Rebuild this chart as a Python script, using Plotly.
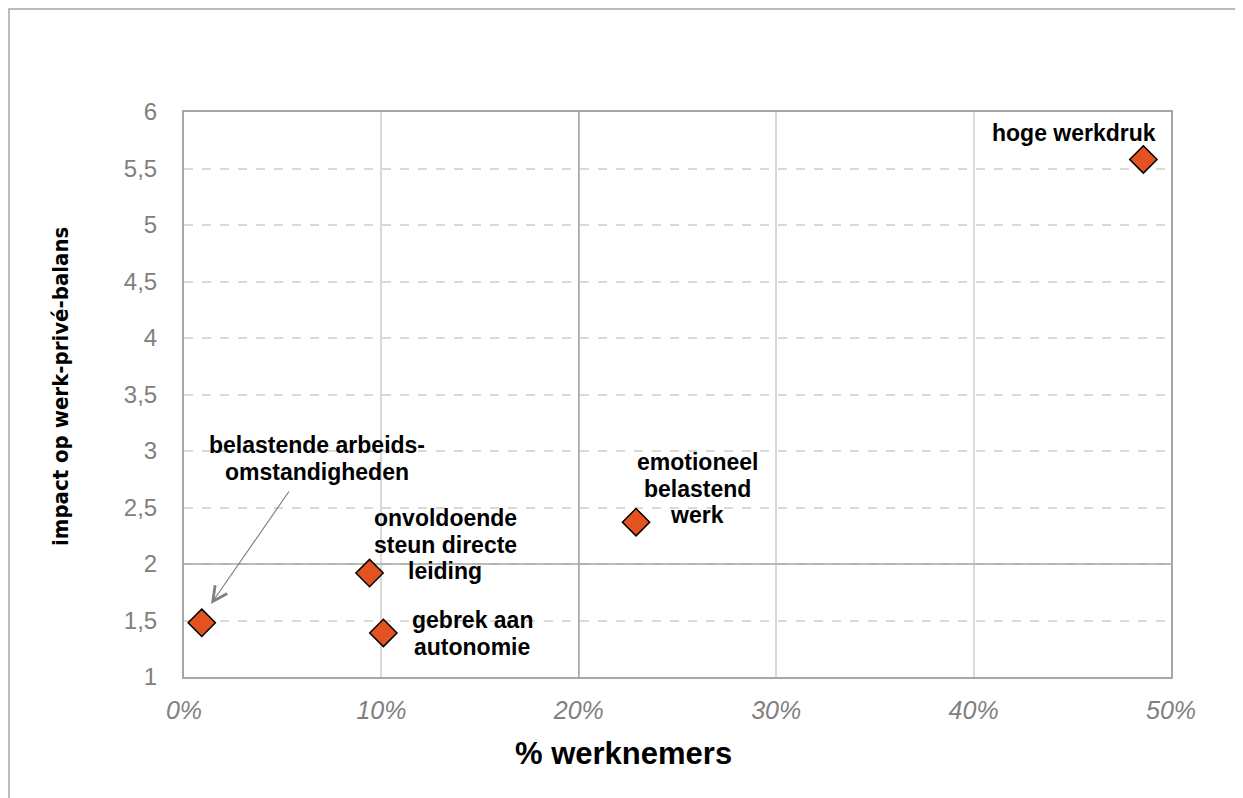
import plotly.graph_objects as go

# ---- data ----
categories = [
    "hoge werkdruk",
    "emotioneel belastend werk",
    "onvoldoende steun directe leiding",
    "gebrek aan autonomie",
    "belastende arbeidsomstandigheden",
]
label_lines = [
    ["hoge werkdruk"],
    ["emotioneel", "belastend", "werk"],
    ["onvoldoende", "steun directe", "leiding"],
    ["gebrek aan", "autonomie"],
    ["belastende arbeids-", "omstandigheden"],
]
pct_workers = [48.6, 22.9, 9.4, 10.1, 0.9]
impact = [5.58, 2.37, 1.92, 1.39, 1.48]

x_range = [0, 50]
y_range = [1, 6]
x_tickvals = [0, 10, 20, 30, 40, 50]
x_ticktext = ["0%", "10%", "20%", "30%", "40%", "50%"]
y_tickvals = [1, 1.5, 2, 2.5, 3, 3.5, 4, 4.5, 5, 5.5, 6]
y_ticktext = ["1", "1,5", "2", "2,5", "3", "3,5", "4", "4,5", "5", "5,5", "6"]
x_ref_line = 20    # emphasised vertical gridline
y_ref_line = 2     # emphasised horizontal gridline
x_title = "% werknemers"
y_title = "impact op werk-privé-balans"

# ---- layout geometry (page has an 8px body margin) ----
OFF = 8
PW, PH = 1243, 798
W, H = PW - OFF, PH - OFF
plot_l, plot_r, plot_t, plot_b = 184, 1171, 112, 677   # page pixels
L, R, T, B = plot_l - OFF, PW - plot_r, plot_t - OFF, PH - plot_b
pw, ph = plot_r - plot_l, plot_b - plot_t

def px2paper_x(px):
    return (px - plot_l) / pw

def px2paper_y(py):
    return (plot_b - py) / ph

def px2x(px):
    return x_range[0] + (px - plot_l) / pw * (x_range[1] - x_range[0])

def px2y(py):
    return y_range[0] + (plot_b - py) / ph * (y_range[1] - y_range[0])

GRAY_TXT = "#808080"
REF_GRAY = "#a6a6a6"
fig = go.Figure()
# emphasised reference gridlines (drawn beneath the markers)
fig.add_trace(go.Scatter(x=x_range, y=[y_ref_line, y_ref_line], mode="lines",
                         line=dict(color=REF_GRAY, width=1.5), hoverinfo="skip",
                         showlegend=False))
fig.add_trace(go.Scatter(x=[x_ref_line, x_ref_line], y=y_range, mode="lines",
                         line=dict(color=REF_GRAY, width=1.5), hoverinfo="skip",
                         showlegend=False))
fig.add_trace(go.Scatter(
    x=pct_workers, y=impact, mode="markers",
    marker=dict(symbol="diamond", size=21, color="#E4531F",
                line=dict(color="black", width=1.5)),
    hoverinfo="text", text=categories, showlegend=False, cliponaxis=False,
))

# label placement: (anchor x pixel, first-line centre y pixel, xanchor)
label_pos = [
    (1158, 133, "right"),
    (697, 462, "center"),
    (445, 518, "center"),
    (472, 620, "center"),
    (317, 445, "center"),
]
LINE_H = 26.5
annotations = []
for lines, (lx, ly, xa) in zip(label_lines, label_pos):
    for i, line in enumerate(lines):
        annotations.append(dict(
            x=px2x(lx), y=px2y(ly + i * LINE_H), xref="x", yref="y",
            text="<b>" + line + "</b>",
            showarrow=False, xanchor=xa, yanchor="middle",
            font=dict(family="Liberation Sans, Arial", size=23, color="black"),
        ))
# arrow for belastende arbeidsomstandigheden
annotations.append(dict(
    x=px2x(211), y=px2y(604), xref="x", yref="y",
    ax=px2x(290), ay=px2y(490), axref="x", ayref="y",
    text="", showarrow=True, arrowhead=5, arrowsize=2.4, arrowwidth=1.2,
    arrowcolor="#808080", standoff=0,
))
# axis titles (placed as in the reference)
annotations.append(dict(
    x=px2paper_x(623), y=px2paper_y(753), xref="paper", yref="paper",
    text="<b>" + x_title + "</b>", showarrow=False, xanchor="center", yanchor="middle",
    font=dict(family="Liberation Sans, Arial", size=31, color="black"),
))
annotations.append(dict(
    x=px2paper_x(60), y=px2paper_y(387), xref="paper", yref="paper",
    text="<b>" + y_title + "</b>", showarrow=False, textangle=-90,
    xanchor="center", yanchor="middle",
    font=dict(family="DejaVu Sans Condensed", size=22, color="black"),
))

shapes = [
    # outer chart frame (extends beyond the picture on the right and bottom)
    dict(type="rect", xref="paper", yref="paper",
         x0=px2paper_x(9), x1=px2paper_x(1300), y0=px2paper_y(9), y1=px2paper_y(840),
         line=dict(color="#a6a6a6", width=1.5), fillcolor="rgba(0,0,0,0)", layer="below"),
]

fig.update_layout(
    width=W, height=H,
    margin=dict(l=L, r=R, t=T, b=B, pad=0),
    paper_bgcolor="white", plot_bgcolor="white",
    annotations=annotations, shapes=shapes,
    xaxis=dict(
        range=x_range, tickvals=x_tickvals, ticktext=x_ticktext,
        showgrid=True, gridcolor="#d9d9d9", gridwidth=1.5,
        showline=True, linecolor="#a6a6a6", linewidth=2, mirror=True,
        zeroline=False, ticks="", ticklabelstandoff=10,
        tickfont=dict(family="Liberation Sans, Arial", size=25, color=GRAY_TXT, style="italic"),
    ),
    yaxis=dict(
        range=y_range, tickvals=y_tickvals, ticktext=y_ticktext,
        showgrid=True, gridcolor="#d9d9d9", gridwidth=1.5, griddash="dash",
        showline=True, linecolor="#a6a6a6", linewidth=2, mirror=True,
        zeroline=False, ticks="", ticklabelstandoff=20,
        tickfont=dict(family="Liberation Sans, Arial", size=24, color=GRAY_TXT),
    ),
)

fig.write_html("out.html")
